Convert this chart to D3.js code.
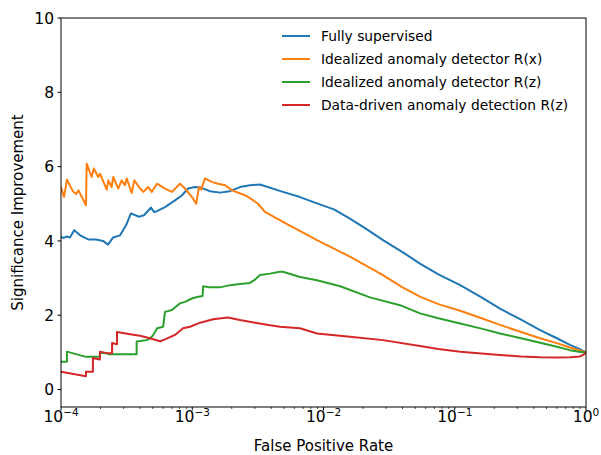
<!DOCTYPE html>
<html>
<head>
<meta charset="utf-8">
<script src="https://cdn.jsdelivr.net/npm/d3@7"></script>
<style>
  body { margin: 0; background: #fff; }
  svg { font-family: "DejaVu Sans", sans-serif; }
</style>
</head>
<body>
<svg width="601" height="455"></svg>
<script>
// series: [false positive rate, significance improvement]
var fullySupervised = [
  [1.0e-4, 4.11], [1.05e-4, 4.08], [1.11e-4, 4.12], [1.17e-4, 4.09], [1.26e-4, 4.29],
  [1.40e-4, 4.15], [1.61e-4, 4.04], [1.85e-4, 4.04], [2.09e-4, 4.00], [2.28e-4, 3.90],
  [2.49e-4, 4.09], [2.82e-4, 4.15], [3.13e-4, 4.42], [3.41e-4, 4.74], [3.93e-4, 4.65],
  [4.29e-4, 4.69], [4.85e-4, 4.90], [5.11e-4, 4.78], [5.39e-4, 4.80], [6.20e-4, 4.91],
  [7.39e-4, 5.09], [8.36e-4, 5.23], [9.29e-4, 5.41], [1.05e-3, 5.45], [1.15e-3, 5.44],
  [1.36e-3, 5.34], [1.63e-3, 5.30], [1.94e-3, 5.34], [2.31e-3, 5.45], [2.75e-3, 5.50],
  [3.28e-3, 5.52], [4.91e-3, 5.32], [6.62e-3, 5.18], [8.92e-3, 5.01], [1.2e-2, 4.85],
  [1.59e-2, 4.60], [2.1e-2, 4.33], [2.84e-2, 4.02], [4.0e-2, 3.70], [5.43e-2, 3.39],
  [7.5e-2, 3.10], [0.110, 2.81], [0.16, 2.48], [0.221, 2.18], [0.32, 1.88],
  [0.447, 1.60], [0.6, 1.38], [0.755, 1.20], [0.88, 1.10], [1.0, 1.0]
];

var idealX = [
  [1.0e-4, 5.45], [1.054e-4, 5.18], [1.11e-4, 5.65], [1.23e-4, 5.34], [1.30e-4, 5.26],
  [1.36e-4, 5.36], [1.55e-4, 4.96], [1.57e-4, 6.08], [1.71e-4, 5.72], [1.78e-4, 5.95],
  [1.92e-4, 5.72], [1.98e-4, 5.81], [2.23e-4, 5.38], [2.29e-4, 5.63], [2.43e-4, 5.45],
  [2.50e-4, 5.72], [2.73e-4, 5.41], [2.90e-4, 5.63], [3.07e-4, 5.50], [3.17e-4, 5.68],
  [3.46e-4, 5.29], [3.62e-4, 5.63], [4.00e-4, 5.41], [4.24e-4, 5.32], [4.62e-4, 5.45],
  [4.91e-4, 5.32], [5.39e-4, 5.54], [6.20e-4, 5.41], [7.01e-4, 5.32], [8.07e-4, 5.54],
  [8.81e-4, 5.41], [9.96e-4, 5.18], [1.07e-3, 5.00], [1.125e-3, 5.45], [1.17e-3, 5.38],
  [1.25e-3, 5.68], [1.41e-3, 5.59], [1.57e-3, 5.54], [1.78e-3, 5.50], [2.01e-3, 5.36],
  [2.52e-3, 5.23], [2.75e-3, 5.15], [3.17e-3, 5.00], [3.58e-3, 4.78], [4.91e-3, 4.51],
  [8.92e-3, 4.02], [1.59e-2, 3.58], [2.84e-2, 3.08], [4.0e-2, 2.75], [5.43e-2, 2.50],
  [7.5e-2, 2.30], [0.110, 2.12], [0.16, 1.92], [0.221, 1.74], [0.32, 1.55],
  [0.447, 1.38], [0.6, 1.25], [0.755, 1.13], [0.88, 1.06], [1.0, 1.0]
];

var idealZ = [
  [1.0e-4, 0.75], [1.11e-4, 0.75], [1.11e-4, 1.02], [1.55e-4, 0.88], [1.98e-4, 0.88],
  [1.98e-4, 0.99], [2.28e-4, 0.97], [2.30e-4, 0.95], [3.77e-4, 0.95], [3.77e-4, 1.29],
  [4.50e-4, 1.33], [4.76e-4, 1.38], [5.00e-4, 1.45], [5.20e-4, 1.55], [5.40e-4, 1.65],
  [6.00e-4, 1.69], [6.20e-4, 2.09], [7.00e-4, 2.14], [8.07e-4, 2.32], [8.81e-4, 2.36],
  [9.96e-4, 2.45], [1.09e-3, 2.49], [1.20e-3, 2.52], [1.21e-3, 2.78], [1.36e-3, 2.75],
  [1.63e-3, 2.75], [1.94e-3, 2.81], [2.31e-3, 2.84], [2.75e-3, 2.87], [3.01e-3, 2.96],
  [3.28e-3, 3.08], [3.91e-3, 3.12], [4.66e-3, 3.17], [4.91e-3, 3.17], [6.62e-3, 3.03],
  [8.92e-3, 2.94], [1.34e-2, 2.78], [2.26e-2, 2.48], [3.83e-2, 2.27], [5.43e-2, 2.05],
  [7.5e-2, 1.92], [0.110, 1.78], [0.16, 1.64], [0.221, 1.51], [0.32, 1.38],
  [0.447, 1.26], [0.6, 1.15], [0.755, 1.06], [0.88, 1.02], [1.0, 1.0]
];

var dataDriven = [
  [1.0e-4, 0.48], [1.55e-4, 0.36], [1.55e-4, 0.48], [1.75e-4, 0.48], [1.75e-4, 0.85],
  [1.98e-4, 0.81], [1.98e-4, 1.02], [2.24e-4, 0.98], [2.45e-4, 0.98], [2.45e-4, 1.25],
  [2.67e-4, 1.22], [2.67e-4, 1.55], [3.36e-4, 1.49], [4.00e-4, 1.45], [4.76e-4, 1.38],
  [5.68e-4, 1.30], [6.20e-4, 1.35], [7.39e-4, 1.47], [8.51e-4, 1.65], [9.62e-4, 1.69],
  [1.15e-3, 1.80], [1.44e-3, 1.89], [1.87e-3, 1.94], [2.31e-3, 1.87], [3.01e-3, 1.80],
  [3.91e-3, 1.73], [4.66e-3, 1.69], [6.62e-3, 1.65], [8.92e-3, 1.51], [1.59e-2, 1.42],
  [2.84e-2, 1.33], [5.43e-2, 1.17], [7.5e-2, 1.09], [0.110, 1.02], [0.16, 0.97],
  [0.221, 0.93], [0.32, 0.89], [0.447, 0.87], [0.6, 0.865], [0.755, 0.87],
  [0.90, 0.89], [0.96, 0.94], [1.0, 1.0]
];

var seriesNames = [
  "Fully supervised",
  "Idealized anomaly detector R(x)",
  "Idealized anomaly detector R(z)",
  "Data-driven anomaly detection R(z)"
];
var seriesColors = ["#1f77b4", "#ff7f0e", "#2ca02c", "#d62728"];
var allSeries = [fullySupervised, idealX, idealZ, dataDriven];

var xDomain = [1e-4, 1];
var yDomain = [-0.47, 10];
var yTicks = [0, 2, 4, 6, 8, 10];
var xMajorExps = [-4, -3, -2, -1, 0];

var svg = d3.select("svg");
var plot = { left: 61, right: 586, top: 18, bottom: 407 };

var x = d3.scaleLog().domain(xDomain).range([plot.left, plot.right]);
var y = d3.scaleLinear().domain(yDomain).range([plot.bottom, plot.top]);

svg.append("clipPath").attr("id", "plotclip")
  .append("rect")
    .attr("x", plot.left).attr("y", plot.top)
    .attr("width", plot.right - plot.left).attr("height", plot.bottom - plot.top);

var line = d3.line()
  .x(function(d) { return x(d[0]); })
  .y(function(d) { return y(d[1]); });

svg.append("g").attr("clip-path", "url(#plotclip)")
  .selectAll("path")
  .data(allSeries)
  .enter()
  .append("path")
    .attr("d", line)
    .attr("fill", "none")
    .attr("stroke", function(d, i) { return seriesColors[i]; })
    .attr("stroke-width", 2)
    .attr("stroke-linejoin", "round");

// frame
svg.append("rect")
  .attr("x", plot.left).attr("y", plot.top)
  .attr("width", plot.right - plot.left).attr("height", plot.bottom - plot.top)
  .attr("fill", "none").attr("stroke", "#000").attr("stroke-width", 1);

// y axis ticks and labels
var yg = svg.append("g");
yTicks.forEach(function(t) {
  yg.append("line")
    .attr("x1", plot.left - 3.5).attr("x2", plot.left)
    .attr("y1", y(t)).attr("y2", y(t))
    .attr("stroke", "#000");
  yg.append("text")
    .attr("x", plot.left - 7).attr("y", y(t))
    .attr("dy", "0.36em")
    .attr("text-anchor", "end")
    .attr("font-size", 15.5)
    .text(t);
});

// x axis: minor ticks then decade labels
var xg = svg.append("g");
x.ticks().forEach(function(t) {
  var major = Math.abs(Math.log10(t) - Math.round(Math.log10(t))) < 1e-9;
  xg.append("line")
    .attr("x1", x(t)).attr("x2", x(t))
    .attr("y1", plot.bottom).attr("y2", plot.bottom + (major ? 3.5 : 2))
    .attr("stroke", "#000")
    .attr("stroke-width", major ? 1 : 0.7);
});
xMajorExps.forEach(function(e) {
  var lab = xg.append("text")
    .attr("x", x(Math.pow(10, e))).attr("y", 422)
    .attr("text-anchor", "middle")
    .attr("font-size", 15.5);
  lab.append("tspan").text("10");
  lab.append("tspan")
    .attr("dy", -6)
    .attr("font-size", 10.5)
    .text(e < 0 ? "\u2212" + (-e) : String(e));
});

svg.append("text")
  .attr("x", (plot.left + plot.right) / 2).attr("y", 451)
  .attr("text-anchor", "middle")
  .attr("font-size", 15)
  .text("False Positive Rate");

svg.append("text")
  .attr("transform", "translate(23," + ((plot.top + plot.bottom) / 2) + ") rotate(-90)")
  .attr("text-anchor", "middle")
  .attr("font-size", 15)
  .text("Significance Improvement");

// legend (no frame)
var legend = svg.append("g");
seriesNames.forEach(function(name, i) {
  var ly = 36 + i * 23;
  legend.append("line")
    .attr("x1", 282).attr("x2", 310)
    .attr("y1", ly).attr("y2", ly)
    .attr("stroke", seriesColors[i]).attr("stroke-width", 2);
  legend.append("text")
    .attr("x", 321).attr("y", ly)
    .attr("dy", "0.36em")
    .attr("font-size", 13.8)
    .text(name);
});
</script>
</body>
</html>
